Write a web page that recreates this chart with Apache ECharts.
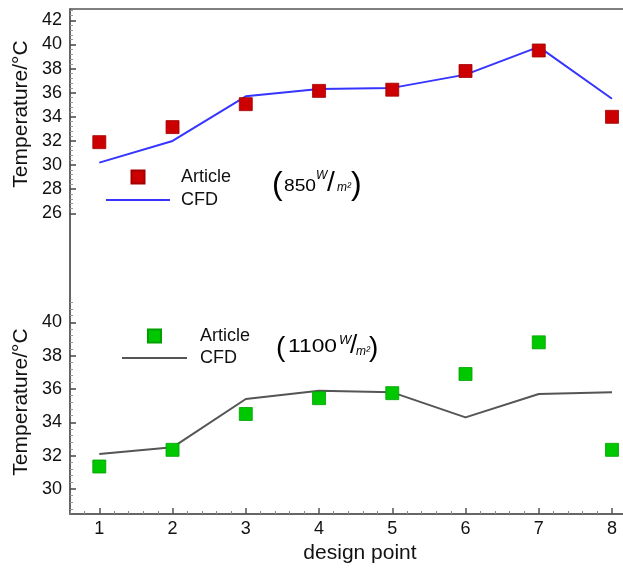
<!DOCTYPE html>
<html>
<head>
<meta charset="utf-8">
<script src="https://cdn.jsdelivr.net/npm/echarts@6/dist/echarts.min.js"></script>
<style>
html,body{margin:0;padding:0;background:#fff;}
#chart{width:623px;height:568px;}
</style>
</head>
<body>
<div id="chart"></div>
<script>
// ---- data ----
const designPoints = [1, 2, 3, 4, 5, 6, 7, 8];
const article850 = [31.9, 33.15, 35.05, 36.15, 36.25, 37.8, 39.5, 34.0];
const cfd850 = [30.2, 32.0, 35.7, 36.3, 36.4, 37.5, 39.8, 35.5];
const article1100 = [31.35, 32.35, 34.5, 35.45, 35.75, 36.9, 38.8, 32.35];
const cfd1100 = [32.1, 32.5, 35.4, 35.9, 35.8, 34.3, 35.7, 35.8];
const xTicks = [1, 2, 3, 4, 5, 6, 7, 8];
const topTicks = [26, 28, 30, 32, 34, 36, 38, 40, 42];
const bottomTicks = [30, 32, 34, 36, 38, 40];
const yTitle = 'Temperature/°C';
const xTitle = 'design point';

// minor tick positions (styling only)
function minors(from, to, step, majors) {
  const out = [];
  for (let v = from; v <= to + 1e-9; v += step) {
    const r = Math.round(v * 100) / 100;
    if (!majors.some(m => Math.abs(m - r) < 1e-6)) out.push(r);
  }
  return out;
}
const xMinor = minors(0.6, 8.0, 0.2, xTicks);
const topMinor = minors(26.4, 42.8, 0.4, topTicks);
const bottomMinor = minors(28.8, 41.2, 0.4, bottomTicks);

const pair = (xs, ys) => xs.map((x, i) => [x, ys[i]]);

const chart = echarts.init(document.getElementById('chart'), null, {renderer: 'canvas'});
const font = 'Liberation Sans, Arial, Helvetica, sans-serif';
const XMIN = 0.6, XMAX = 8.15;
const squareIcon = 'path://M0,0h10v10h-10z';
const lineIcon = 'path://M0,0h64v2h-64z';

const option = {
  animation: false,
  backgroundColor: '#fff',
  textStyle: {fontFamily: font},
  grid: {left: 70, right: 0, top: 9, bottom: 54, containLabel: false},
  xAxis: [
    {
      type: 'value', position: 'bottom', min: XMIN, max: XMAX,
      axisLine: {show: true, lineStyle: {color: '#666', width: 2}},
      axisTick: {show: true, inside: true, length: 6, customValues: xTicks, lineStyle: {color: '#555', width: 1.5}},
      axisLabel: {show: true, customValues: xTicks, margin: 6, fontSize: 18, color: '#111', fontFamily: font},
      splitLine: {show: false}
    },
    {
      type: 'value', position: 'bottom', min: XMIN, max: XMAX,
      axisLine: {show: false},
      axisTick: {show: true, inside: true, length: 3, customValues: xMinor, lineStyle: {color: '#888', width: 1}},
      axisLabel: {show: false},
      splitLine: {show: false}
    },
    {
      type: 'value', position: 'top', min: XMIN, max: XMAX,
      axisLine: {show: true, lineStyle: {color: '#555', width: 1.5}},
      axisTick: {show: false}, axisLabel: {show: false}, splitLine: {show: false}
    }
  ],
  yAxis: [
    {
      type: 'value', position: 'left', min: 1.07, max: 42.94,
      axisLine: {show: true, lineStyle: {color: '#333', width: 1.5}},
      axisTick: {show: true, inside: true, length: 6, customValues: topTicks, lineStyle: {color: '#444', width: 1.5}},
      axisLabel: {show: true, customValues: topTicks, margin: 8, fontSize: 18, color: '#111', fontFamily: font},
      splitLine: {show: false}
    },
    {
      type: 'value', position: 'left', min: 1.07, max: 42.94,
      axisLine: {show: false},
      axisTick: {show: true, inside: true, length: 3, customValues: topMinor, lineStyle: {color: '#999', width: 1}},
      axisLabel: {show: false}, splitLine: {show: false}
    },
    {
      type: 'value', position: 'left', min: 28.5, max: 58.8,
      axisLine: {show: false},
      axisTick: {show: true, inside: true, length: 6, customValues: bottomTicks, lineStyle: {color: '#444', width: 1.5}},
      axisLabel: {show: true, customValues: bottomTicks, margin: 8, fontSize: 18, color: '#111', fontFamily: font},
      splitLine: {show: false}
    },
    {
      type: 'value', position: 'left', min: 28.5, max: 58.8,
      axisLine: {show: false},
      axisTick: {show: true, inside: true, length: 3, customValues: bottomMinor, lineStyle: {color: '#999', width: 1}},
      axisLabel: {show: false}, splitLine: {show: false}
    }
  ],
  legend: [
    {
      orient: 'vertical', left: 106, top: 168, padding: 0, itemWidth: 64, itemHeight: 13, itemGap: 5,
      selectedMode: false,
      formatter: n => n.split(' ')[0],
      textStyle: {fontSize: 18, color: '#111', fontFamily: font, padding: [0, 0, 0, 6]},
      data: [
        {name: 'Article 850', icon: squareIcon},
        {name: 'CFD 850', icon: lineIcon}
      ]
    },
    {
      orient: 'vertical', left: 122, top: 327, padding: 0, itemWidth: 65, itemHeight: 13, itemGap: 4,
      selectedMode: false,
      formatter: n => n.split(' ')[0],
      textStyle: {fontSize: 18, color: '#111', fontFamily: font, padding: [0, 0, 0, 8]},
      data: [
        {name: 'Article 1100', icon: squareIcon},
        {name: 'CFD 1100', icon: lineIcon}
      ]
    }
  ],
  series: [
    {
      name: 'CFD 850', type: 'line', xAxisIndex: 0, yAxisIndex: 0,
      data: pair(designPoints, cfd850), symbol: 'none', showSymbol: false, z: 2,
      lineStyle: {color: '#3535ff', width: 2}, itemStyle: {color: '#3535ff'}
    },
    {
      name: 'Article 850', type: 'scatter', xAxisIndex: 0, yAxisIndex: 0,
      data: pair(designPoints, article850), symbol: 'rect', symbolSize: 13, z: 3,
      itemStyle: {color: '#cc0000', borderColor: '#a30000', borderWidth: 0.8, opacity: 1}
    },
    {
      name: 'CFD 1100', type: 'line', xAxisIndex: 0, yAxisIndex: 2,
      data: pair(designPoints, cfd1100), symbol: 'none', showSymbol: false, z: 2,
      lineStyle: {color: '#555555', width: 2}, itemStyle: {color: '#555555'}
    },
    {
      name: 'Article 1100', type: 'scatter', xAxisIndex: 0, yAxisIndex: 2,
      data: pair(designPoints, article1100), symbol: 'rect', symbolSize: 13, z: 3,
      itemStyle: {color: '#00c800', borderColor: '#00a000', borderWidth: 0.8, opacity: 1}
    }
  ],
  graphic: [
    {type: 'text', x: 21, y: 114, rotation: Math.PI / 2,
     style: {text: yTitle, font: '21px ' + font, fill: '#111', align: 'center', verticalAlign: 'middle'}},
    {type: 'text', x: 21, y: 402, rotation: Math.PI / 2,
     style: {text: yTitle, font: '21px ' + font, fill: '#111', align: 'center', verticalAlign: 'middle'}},
    {type: 'text', x: 360, y: 553,
     style: {text: xTitle, font: '21px ' + font, fill: '#111', align: 'center', verticalAlign: 'middle'}},
    // (850 W/m²)
    {type: 'text', x: 272, y: 185, style: {text: '(', font: '32px ' + font, fill: '#000', align: 'left', verticalAlign: 'middle'}},
    {type: 'text', x: 284, y: 187, scaleX: 1.2, style: {text: '850', font: '16px ' + font, fill: '#000', align: 'left', verticalAlign: 'middle'}},
    {type: 'text', x: 316, y: 176, style: {text: 'W', font: 'italic 12px ' + font, fill: '#000', align: 'left', verticalAlign: 'middle'}},
    {type: 'text', x: 327, y: 183, style: {text: '/', font: '28px ' + font, fill: '#000', align: 'left', verticalAlign: 'middle'}},
    {type: 'text', x: 337, y: 188, style: {text: 'm²', font: 'italic 12px ' + font, fill: '#000', align: 'left', verticalAlign: 'middle'}},
    {type: 'text', x: 351, y: 185, style: {text: ')', font: '32px ' + font, fill: '#000', align: 'left', verticalAlign: 'middle'}},
    // (1100 W/m²)
    {type: 'text', x: 276, y: 348, style: {text: '(', font: '28px ' + font, fill: '#000', align: 'left', verticalAlign: 'middle'}},
    {type: 'text', x: 288, y: 347, scaleX: 1.2, style: {text: '1100', font: '19px ' + font, fill: '#000', align: 'left', verticalAlign: 'middle'}},
    {type: 'text', x: 339, y: 340, style: {text: 'W', font: 'italic 13px ' + font, fill: '#000', align: 'left', verticalAlign: 'middle'}},
    {type: 'text', x: 350, y: 346, style: {text: '/', font: '26px ' + font, fill: '#000', align: 'left', verticalAlign: 'middle'}},
    {type: 'text', x: 356, y: 352, style: {text: 'm²', font: 'italic 12px ' + font, fill: '#000', align: 'left', verticalAlign: 'middle'}},
    {type: 'text', x: 369, y: 348, style: {text: ')', font: '28px ' + font, fill: '#000', align: 'left', verticalAlign: 'middle'}}
  ]
};
chart.setOption(option);
</script>
</body>
</html>
